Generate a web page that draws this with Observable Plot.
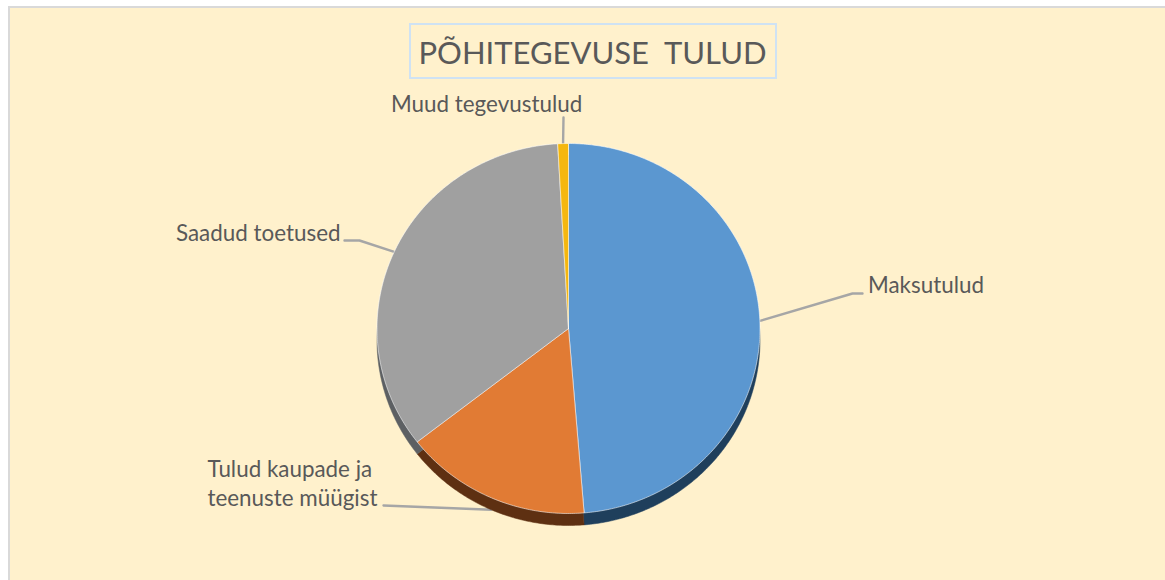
<!DOCTYPE html>
<html lang="et">
<head>
<meta charset="utf-8">
<script src="https://cdn.jsdelivr.net/npm/d3@7"></script>
<script src="https://cdn.jsdelivr.net/npm/@observablehq/plot@0.6"></script>
<style>
html,body{margin:0;padding:0;background:#fff;overflow:hidden}
#panel{position:absolute;left:8px;top:6px;width:1157px;height:574px;box-sizing:border-box;background:#FFF1CC;border-left:2px solid #d9d9d9;border-top:2px solid #d9d9d9}
#chart{position:absolute;left:0;top:0}
#chart svg{background:transparent;display:block}
</style>
</head>
<body>
<div id="panel"></div>
<div id="chart"></div>
<script>
const titleText = "PÕHITEGEVUSE  TULUD";
const categories = ["Maksutulud", "Tulud kaupade ja\nteenuste müügist", "Saadud toetused", "Muud tegevustulud"];
const values = [48.7, 15.8, 34.6, 0.9];
const topColors = ["#5B97D0", "#E17B34", "#A0A0A0", "#F5B70F"];
const rimColors = ["#1F3F5C", "#5E3012", "#5D6063", "#8A6A08"];

// layout
const W = 1165, H = 580, cx = 568, cy = 328, rx = 191.5, ry = 185, depth = 12;
const labelX = [867.5, 207, 175.5, 390.5];
const labelY = [283.5, 481.5, 231.5, 102];
const elbows = [[[862, 293], [852, 293]], [[383, 505]], [[344, 240], [359, 240]], [[563, 117]]];

const arcs = d3.pie().sort(null).value(d => d)(values);
const pt = (a, dy = 0) => [cx + rx * Math.sin(a), cy + dy - ry * Math.cos(a)];

function slicePoints(dy) {
  const out = [];
  arcs.forEach((arc, i) => {
    const n = Math.max(2, Math.ceil((arc.endAngle - arc.startAngle) * 90));
    const path = [[cx, cy + dy], ...d3.range(n + 1).map(k => pt(arc.startAngle + (arc.endAngle - arc.startAngle) * k / n, dy)), [cx, cy + dy]];
    path.forEach(([x, y]) => out.push({i, x, y}));
  });
  return out;
}

const leaders = [];
arcs.forEach((arc, i) => {
  const mid = (arc.startAngle + arc.endAngle) / 2;
  const end = pt(mid, Math.cos(mid) < -0.5 ? depth : 0);
  [...elbows[i], end].forEach(([x, y]) => leaders.push({i, x, y}));
});

const rimData = slicePoints(depth), topData = slicePoints(0);
const labels = categories.map((t, i) => ({t, x: labelX[i], y: labelY[i]}));

const chart = Plot.plot({
  width: W, height: H, margin: 0,
  x: {domain: [0, W], range: [0, W], axis: null},
  y: {domain: [0, H], range: [0, H], axis: null},
  style: {background: "transparent"},
  marks: [
    Plot.line(leaders, {x: "x", y: "y", z: "i", stroke: "#A6A6A6", strokeWidth: 2.4, curve: "linear"}),
    Plot.line(rimData, {x: "x", y: "y", z: "i", fill: d => rimColors[d.i], stroke: d => rimColors[d.i], strokeWidth: 0.5, curve: "linear"}),
    Plot.line(topData, {x: "x", y: "y", z: "i", fill: d => topColors[d.i], stroke: "#FFFFFF", strokeOpacity: 0.55, strokeWidth: 1, curve: "linear"}),
    Plot.rect([titleText], {x1: () => 410, x2: () => 776, y1: () => 24, y2: () => 78, fill: "none", stroke: "#CFE2F3", strokeWidth: 2}),
    Plot.text([titleText], {x: () => 592, y: () => 53.5, text: d => d, fontSize: 31, fill: "#595959", fontFamily: "Lato", textAnchor: "middle", lineAnchor: "middle"}),
    Plot.text(labels, {x: "x", y: "y", text: "t", fontSize: 22.4, lineHeight: 1.3, fill: "#595959", fontFamily: "Lato", textAnchor: "start", lineAnchor: "middle"})
  ]
});
chart.querySelectorAll("text").forEach(t => t.style.whiteSpace = "pre");
document.getElementById("chart").appendChild(chart);
</script>
</body>
</html>
